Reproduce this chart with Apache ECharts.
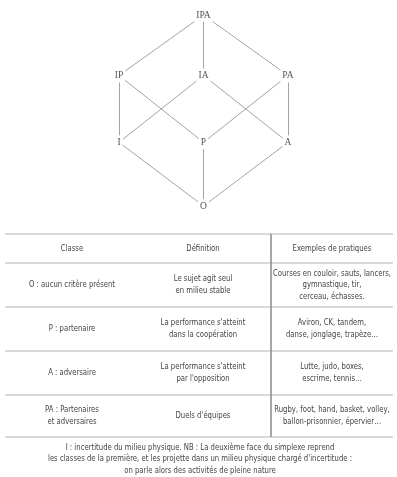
<!DOCTYPE html>
<html><head><meta charset="utf-8">
<script src="https://cdn.jsdelivr.net/npm/echarts@6/dist/echarts.min.js"></script>
<style>html,body{margin:0;padding:0;background:#fff}#c{width:397px;height:477px}</style>
</head><body><div id="c"></div>
<script>
// Simplex (cube) nodes: name, column (-1,0,1), level (0..3)
const nodeNames = ['IPA', 'IP', 'IA', 'PA', 'I', 'P', 'A', 'O'];
const nodeCols  = [0, -1, 0, 1, -1, 0, 1, 0];
const nodeLevels = [3, 2.05, 2.05, 2.05, 1, 1, 1, 0];
const edgeFrom = ['IPA','IPA','IPA','IP','IP','IA','IA','PA','PA','I','P','A'];
const edgeTo   = ['IP','IA','PA','I','P','I','A','P','A','O','O','O'];

// Table content
const headers = ['Classe', 'Définition', 'Exemples de pratiques'];
const classes = ['O : aucun critère présent', 'P : partenaire', 'A : adversaire', 'PA : Partenaires\net adversaires'];
const definitions = ['Le sujet agit seul\nen milieu stable', 'La performance s\'atteint\ndans la coopération', 'La performance s\'atteint\npar l\'opposition', 'Duels d\'équipes'];
const examples = ['Courses en couloir, sauts, lancers,\ngymnastique, tir,\ncerceau, échasses.', 'Aviron, CK, tandem,\ndanse, jonglage, trapèze…', 'Lutte, judo, boxes,\nescrime, tennis…', 'Rugby, foot, hand, basket, volley,\nballon-prisonnier, épervier…'];
const footnote = 'I : incertitude du milieu physique. NB : La deuxième face du simplexe reprend\nles classes de la première, et les projette dans un milieu physique chargé d\'incertitude :\non parle alors des activités de pleine nature';

const FONT = '"DejaVu Sans Condensed", "Liberation Sans", sans-serif';
const TXT = '#444';
const colX = [72, 203, 332];
const rowLines = [234, 263, 307, 351, 395, 437];
const tableLeft = 5, tableRight = 393, divX = 271;

const graphic = [];
rowLines.forEach(y => graphic.push({type:'line', shape:{x1:tableLeft, y1:y, x2:tableRight, y2:y}, style:{stroke:'#b5b5b5', lineWidth:1}}));
graphic.push({type:'line', shape:{x1:divX, y1:rowLines[0], x2:divX, y2:rowLines[rowLines.length-1]}, style:{stroke:'#8a8a8a', lineWidth:1.5}});
function txt(s, x, y){
  graphic.push({type:'text', x:x, y:y, scaleX:0.85, style:{text:s, fill:TXT, font:'9px ' + FONT, align:'center', verticalAlign:'middle', lineHeight:11.8}});
}
headers.forEach((h,i)=>txt(h, colX[i], (rowLines[0]+rowLines[1])/2));
[classes, definitions, examples].forEach((col, ci) => {
  col.forEach((s, ri) => txt(s, colX[ci], (rowLines[ri+1]+rowLines[ri+2])/2));
});
txt(footnote, 200, 459);

const chart = echarts.init(document.getElementById('c'), null, {renderer:'canvas'});
chart.setOption({
  animation:false,
  backgroundColor:'#fff',
  grid:{left:119, right:109, top:15, bottom:271},
  xAxis:{type:'value', min:-1, max:1, show:false},
  yAxis:{type:'value', min:0, max:3, show:false},
  series:[{
    type:'graph',
    coordinateSystem:'cartesian2d',
    symbol:'circle', symbolSize:1,
    itemStyle:{color:'rgba(0,0,0,0)'},
    label:{show:true, position:'inside', formatter:'{b}', color:'#555', fontFamily:'"Liberation Serif", "DejaVu Serif", serif', fontSize:9.5, backgroundColor:'#fff', padding:[2,2]},
    lineStyle:{color:'#8c8c8c', width:0.8, opacity:1, curveness:0},
    data: nodeNames.map((n,i)=>({name:n, value:[nodeCols[i], nodeLevels[i]]})),
    links: edgeFrom.map((f,i)=>({source:f, target:edgeTo[i]}))
  }],
  graphic: graphic
});
</script></body></html>
